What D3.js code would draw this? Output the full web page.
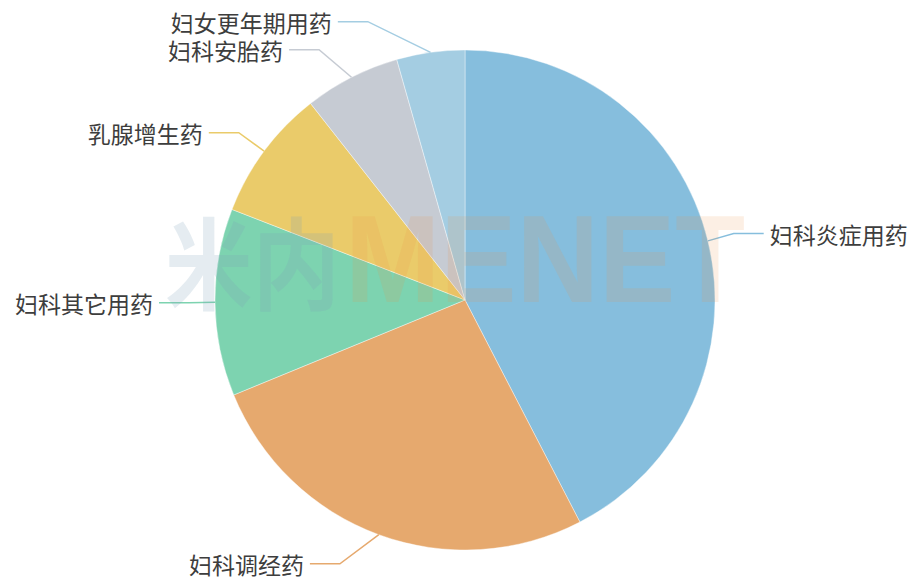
<!DOCTYPE html>
<html>
<head>
<meta charset="utf-8">
<script src="https://cdn.jsdelivr.net/npm/d3@7"></script>
<style>
html,body{margin:0;padding:0;background:#fff;}
svg{display:block;}
</style>
</head>
<body>
<svg id="chart" width="914" height="579"></svg>
<script>
const categories = ["妇科炎症用药","妇科调经药","妇科其它用药","乳腺增生药","妇科安胎药","妇女更年期用药"];
const values = [42.4, 26.4, 12.1, 8.5, 6.2, 4.4];
const colors = ["#86bedd","#e6a96e","#7dd3b0","#eacb6a","#c6cbd3","#a4cde2"];
const watermarkCn = "米内";
const watermarkEn = "MENET";

const W = 914, H = 579;
const cx = 465, cy = 300, r = 250;
const len1 = 31, len2 = 30, gap = 6;
const R3 = r + 56;

const svg = d3.select("#chart");
const data = categories.map((c,i)=>({name:c, value:values[i], color:colors[i]}));

const pie = d3.pie().sort(null).value(d=>d.value).startAngle(0).endAngle(2*Math.PI);
const arcs = pie(data);
const arc = d3.arc().innerRadius(0).outerRadius(r);

const g = svg.append("g").attr("transform",`translate(${cx},${cy})`);
g.selectAll("path.slice").data(arcs).join("path")
  .attr("class","slice")
  .attr("d",arc)
  .attr("fill",d=>d.data.color)
  .attr("stroke","#fff").attr("stroke-width",0.4);

// labels
const labels = arcs.map(a=>{
  const mid=(a.startAngle+a.endAngle)/2;
  const s=Math.sin(mid), c=Math.cos(mid);
  const dir = s>=0?1:-1;
  const p1=[cx+r*s, cy-r*c];
  const ly = cy-(r+len1)*c;
  const dy = ly-cy;
  const x3 = cx + dir*Math.sqrt(Math.max(0,R3*R3-dy*dy));
  const x2 = x3 - dir*len2;
  return {a, dir, pts:[p1,[x2,ly],[x3,ly]], tx:x3+dir*gap, ty:ly};
});

svg.append("g").selectAll("path").data(labels).join("path")
  .attr("d",d=>d3.line()(d.pts))
  .attr("fill","none")
  .attr("stroke",d=>d.a.data.color)
  .attr("stroke-width",1.5);

svg.append("g").selectAll("text").data(labels).join("text")
  .attr("x",d=>d.tx).attr("y",d=>d.ty)
  .attr("text-anchor",d=>d.dir>0?"start":"end")
  .attr("dominant-baseline","central")
  .attr("font-family","'Noto Sans CJK SC','Noto Sans',sans-serif")
  .attr("font-size",23)
  .attr("fill","#3d3d3d")
  .text(d=>d.a.data.name);

// watermark
const wm = svg.append("g").attr("pointer-events","none");
wm.append("text")
  .attr("x",165).attr("y",258)
  .attr("dominant-baseline","central")
  .attr("font-family","'Noto Sans CJK SC',sans-serif")
  .attr("font-weight","bold")
  .attr("font-size",100)
  .attr("textLength",175).attr("lengthAdjust","spacingAndGlyphs")
  .attr("fill","rgb(125,160,185)").attr("fill-opacity",0.2)
  .text(watermarkCn);
wm.append("text")
  .attr("x",345).attr("y",302)
  .attr("font-family","'Liberation Sans',Arial,sans-serif")
  .attr("font-weight","bold")
  .attr("font-size",124)
  .attr("textLength",400).attr("lengthAdjust","spacingAndGlyphs")
  .attr("fill","rgb(235,148,75)").attr("fill-opacity",0.15)
  .text(watermarkEn);
</script>
</body>
</html>
